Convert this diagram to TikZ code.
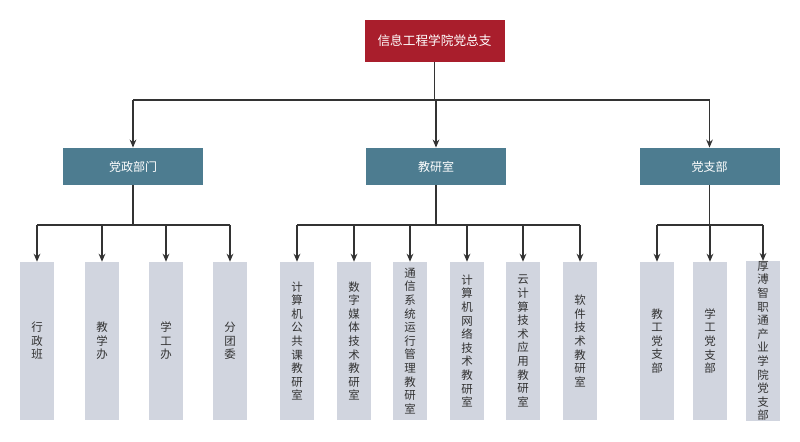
\documentclass[tikz,border=0pt]{standalone}
\usepackage{fontspec}
\newfontfamily\cjk{Noto Sans CJK SC}
\usetikzlibrary{arrows.meta}
\definecolor{topred}{HTML}{A91E2C}
\definecolor{midteal}{HTML}{4D7C90}
\definecolor{leafgray}{HTML}{D1D5DF}
\definecolor{linec}{HTML}{333333}
\begin{document}
\begin{tikzpicture}[x=0.75pt,y=-0.75pt,
  topbox/.style={fill=topred,text=white,minimum width=105pt,minimum height=31pt,inner sep=0pt,font=\cjk\fontsize{9.5}{11}\selectfont},
  midbox/.style={fill=midteal,text=white,minimum width=105pt,minimum height=28pt,inner sep=0pt,font=\cjk\fontsize{9}{11}\selectfont},
  leafbox/.style={fill=leafgray,text=black!80,minimum width=25.5pt,minimum height=118.5pt,inner sep=0pt,align=center,font=\cjk\fontsize{8.6}{10.2}\selectfont},
  conn/.style={draw=linec,line width=1.2pt},
  arr/.style={conn,-{Stealth[length=6pt,width=5pt]}}]
\useasboundingbox (0,0) rectangle (800,442);
\node[topbox] (top) at (434.5,41) {信息工程学院党总支};
\node[midbox] (m1) at (133,166.5) {党政部门};
\node[midbox] (m2) at (436,166.5) {教研室};
\node[midbox] (m3) at (709.5,166.5) {党支部};
\coordinate (h1) at (133,100); \coordinate (h3) at (709.5,100);
\coordinate (hc) at (434.5,100);
\draw[conn] (top.south) -- (hc);
\draw[conn] (h1) -- (h3);
\draw[arr] (h1) -- (m1.north);
\draw[arr] (436,100) -- (m2.north);
\draw[arr] (h3) -- (m3.north);
% leaves
\foreach \n/\x/\t in {a1/37/行\\政\\班, a2/102/教\\学\\办, a3/166/学\\工\\办, a4/230/分\\团\\委,
  b1/297/计\\算\\机\\公\\共\\课\\教\\研\\室, b2/354/数\\字\\媒\\体\\技\\术\\教\\研\\室,
  b3/410/通\\信\\系\\统\\运\\行\\管\\理\\教\\研\\室, b4/467/计\\算\\机\\网\\络\\技\\术\\教\\研\\室,
  b5/523/云\\计\\算\\技\\术\\应\\用\\教\\研\\室, b6/580/软\\件\\技\\术\\教\\研\\室,
  c1/657/教\\工\\党\\支\\部, c2/710/学\\工\\党\\支\\部, c3/763/厚\\溥\\智\\职\\通\\产\\业\\学\\院\\党\\支\\部}
  { \node[leafbox] (\n) at (\x,341) {\t}; }
\foreach \m/\y in {m1/133,m2/436,m3/709.5}{ \draw[conn] (\m.south) -- (\y,225); }
\draw[conn] (a1.north |- 0,225) -- (a4.north |- 0,225);
\draw[conn] (b1.north |- 0,225) -- (b6.north |- 0,225);
\draw[conn] (c1.north |- 0,225) -- (c3.north |- 0,225);
\foreach \n in {a1,a2,a3,a4,b1,b2,b3,b4,b5,b6,c1,c2,c3}{ \draw[arr] (\n.north |- 0,225) -- (\n.north); }
\end{tikzpicture}
\end{document}
